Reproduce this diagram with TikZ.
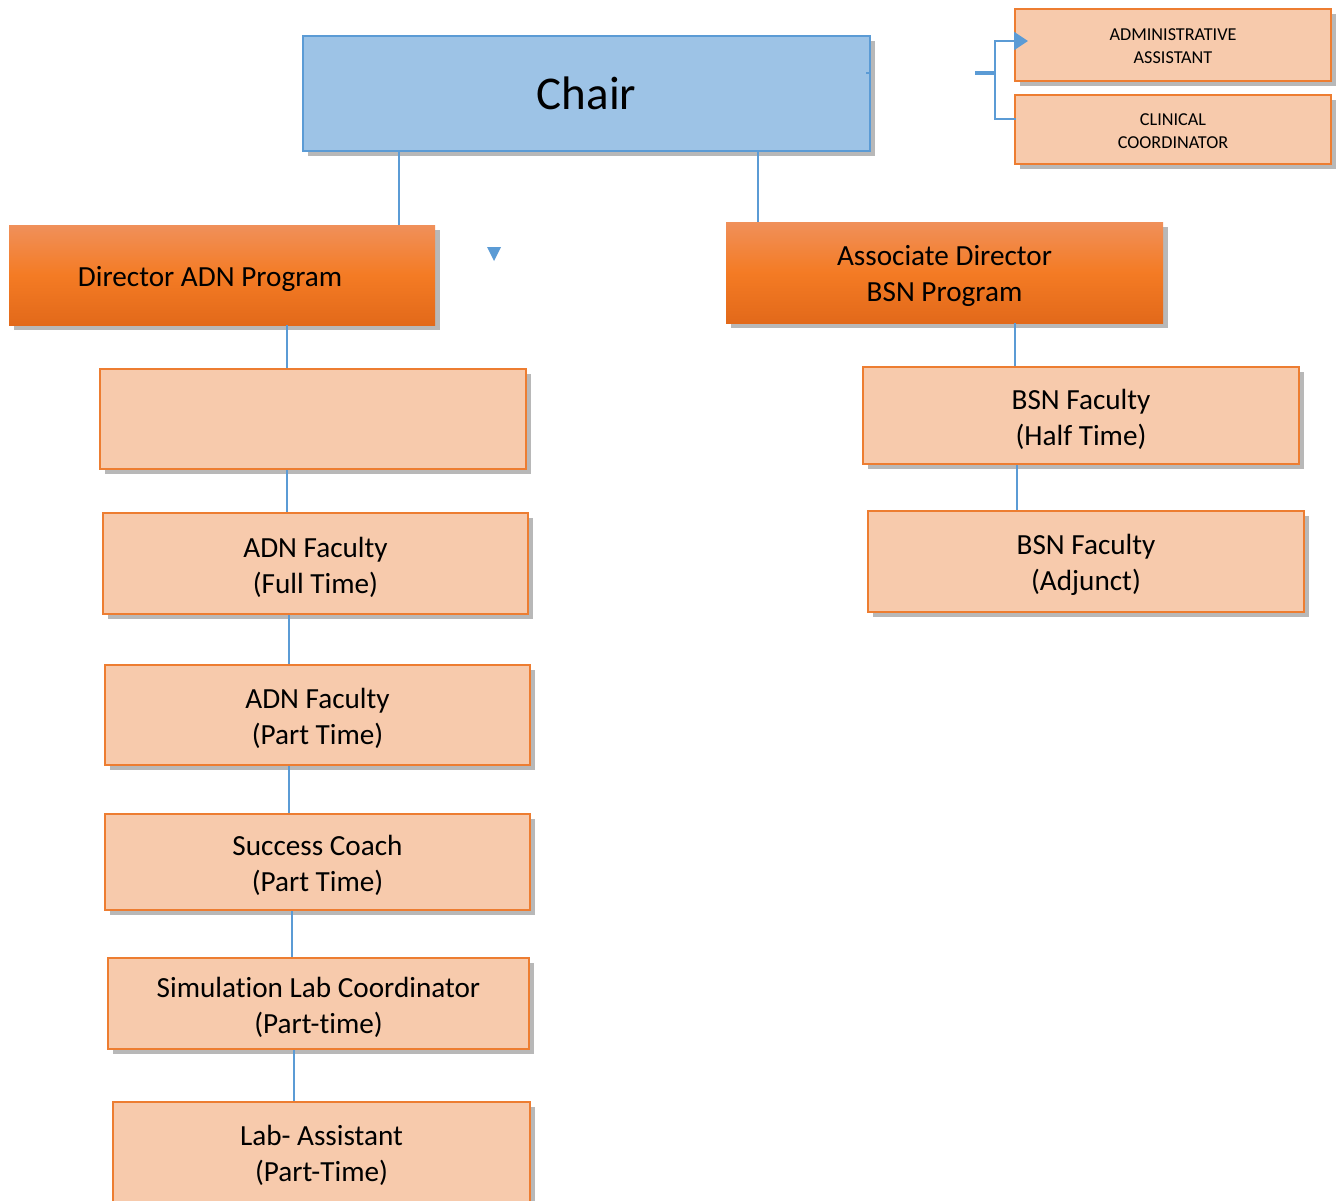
\documentclass[tikz,border=0pt]{standalone}
\usepackage{fontspec}
\setmainfont{Carlito}[Ligatures=NoCommon]
\usetikzlibrary{shadows,arrows.meta,calc}
\definecolor{peach}{HTML}{F7CAAC}
\definecolor{orng}{HTML}{ED7D31}
\definecolor{chairfill}{HTML}{9DC3E6}
\definecolor{bluel}{HTML}{5B9BD5}
\definecolor{ortop}{HTML}{F0905A}
\definecolor{ormid}{HTML}{F47B24}
\definecolor{orbot}{HTML}{E2691A}
\begin{document}
\begin{tikzpicture}[x=0.5pt,y=-0.5pt,
  shad/.style={drop shadow={shadow xshift=2.5pt,shadow yshift=-2.5pt,opacity=0.28,fill=black}},
  lbl/.style={align=center,inner sep=0pt,yshift=-1.8pt,font=\fontsize{14.6}{18}\selectfont},
  slbl/.style={align=center,inner sep=0pt,yshift=-0.6pt,font=\fontsize{9.1}{11.5}\selectfont},
  pbox/.style={draw=orng,line width=1pt,fill=peach,shad,inner sep=0pt},
  obox/.style={top color=ortop,bottom color=orbot,middle color=ormid,shad,inner sep=0pt},
  cbox/.style={draw=bluel,line width=1pt,fill=chairfill,shad,align=center,inner sep=0pt,
    font=\fontsize{23.5}{28}\selectfont},
  conn/.style={draw=bluel,line width=1pt}
]
\useasboundingbox (0,0) rectangle (1342,1200);
\fill[white] (0,0) rectangle (1342,1200);

% nodes
\node[cbox,minimum width=283.5pt,minimum height=57.5pt] (chair) at (586.5,93.5) {Chair};
\node[pbox,minimum width=158pt,minimum height=36pt,
  label={[slbl]center:{ADMINISTRATIVE\\ASSISTANT}}] (admin) at (1173,45) {};
\node[pbox,minimum width=158pt,minimum height=34.5pt,
  label={[slbl]center:{CLINICAL\\COORDINATOR}}] (clin) at (1173,129.5) {};
\node[obox,minimum width=213pt,minimum height=50pt,
  label={[lbl,xshift=-6pt]center:{Director ADN Program}}] (dir) at (222,275) {};
\node[obox,minimum width=218.5pt,minimum height=50.5pt,
  label={[lbl]center:{Associate Director\\BSN Program}}] (assoc) at (944.5,272.5) {};
\node[pbox,minimum width=213pt,minimum height=50pt] (empty) at (313,419) {};
\node[pbox,minimum width=212.5pt,minimum height=50.5pt,
  label={[lbl]center:{ADN Faculty\\(Full Time)}}] (adnft) at (315.5,563.5) {};
\node[pbox,minimum width=212.5pt,minimum height=50pt,
  label={[lbl]center:{ADN Faculty\\(Part Time)}}] (adnpt) at (317.5,715) {};
\node[pbox,minimum width=212.5pt,minimum height=48pt,
  label={[lbl]center:{Success Coach\\(Part Time)}}] (succ) at (317.5,862) {};
\node[pbox,minimum width=210.5pt,minimum height=45.5pt,
  label={[lbl]center:{Simulation Lab Coordinator\\(Part-time)}}] (sim) at (318.5,1003.5) {};
\node[pbox,minimum width=208.5pt,minimum height=60pt] (lab) at (321.5,1162) {};
\node[lbl] (labt) at (321.5,1152) {Lab- Assistant\\(Part-Time)};
\node[pbox,minimum width=218pt,minimum height=48.5pt,
  label={[lbl]center:{BSN Faculty\\(Half Time)}}] (bsnh) at (1081,415.5) {};
\node[pbox,minimum width=218pt,minimum height=50.5pt,
  label={[lbl]center:{BSN Faculty\\(Adjunct)}}] (bsna) at (1086,561.5) {};

% connectors
\draw[conn] (chair.south -| 399,0) -- (dir.north -| 399,0);
\draw[conn] (chair.south -| 758,0) -- (assoc.north -| 758,0);
\draw[conn] (dir.south -| 287,0) -- (empty.north -| 287,0);
\draw[conn] (empty.south -| 287,0) -- (adnft.north -| 287,0);
\draw[conn] (adnft.south -| 289,0) -- (adnpt.north -| 289,0);
\draw[conn] (adnpt.south -| 289,0) -- (succ.north -| 289,0);
\draw[conn] (succ.south -| 292,0) -- (sim.north -| 292,0);
\draw[conn] (sim.south -| 294,0) -- (lab.north -| 294,0);
\draw[conn] (assoc.south -| 1015,0) -- (bsnh.north -| 1015,0);
\draw[conn] (bsnh.south -| 1017,0) -- (bsna.north -| 1017,0);

% bracket to admin / clinical
\coordinate (brk) at (995,73);
\coordinate (brkin) at (975,73);
\draw[draw=bluel,line width=2pt] (brkin) -- (brk);
\draw[conn,-{Triangle[length=7pt,width=9pt]}] (brk) |- ([xshift=7pt,yshift=2pt]admin.west);
\draw[conn] (brk) |- ([xshift=1pt,yshift=5.25pt]clin.west);

% stray marks
\fill[bluel] (487,247) -- (501,247) -- (494,261) -- cycle;
\draw[conn] (866,73) -- (chair.east |- 0,73);
\end{tikzpicture}
\end{document}
